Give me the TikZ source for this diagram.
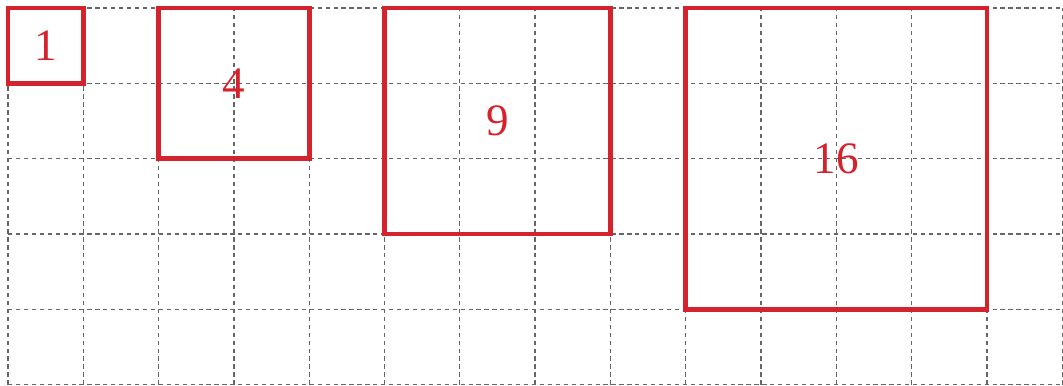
\documentclass[tikz,border=0pt]{standalone}
\usepackage{fontspec}
\setmainfont{Liberation Serif}
\definecolor{sqred}{RGB}{213,35,45}
\begin{document}
\begin{tikzpicture}[
    gridline/.style={gray!80!black, line width=0.5pt, dash pattern=on 1.6pt off 1.4pt},
    sq/.style={sqred, line width=1.8pt},
    num/.style={text=sqred, font=\fontsize{17}{20}\selectfont}
  ]
    \useasboundingbox (-0.106,-0.01) rectangle (14.01,5.106);

    % Grille
    \draw[gridline] (0,0) grid (14,5);

    % Carres
    \draw[sq] (0,4) rectangle (1,5);
    \draw[sq] (2,3) rectangle (4,5);
    \draw[sq] (5,2) rectangle (8,5);
    \draw[sq] (9,1) rectangle (13,5);

    % Aires
    \node[num] (a1) at (0.5,4.5) {1};
    \node[num] (a4) at (3,4) {4};
    \node[num] (a9) at (6.5,3.5) {9};
    \node[num] (a16) at (11,3) {16};
\end{tikzpicture}
\end{document}
